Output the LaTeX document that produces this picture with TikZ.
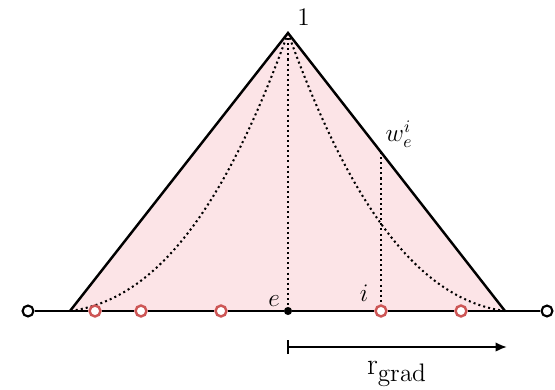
\documentclass[tikz,border=0pt]{standalone}
\usepackage{amsmath,amssymb}
\usepackage{xcolor}
\usepackage{tikz}
\usetikzlibrary{positioning, calc, arrows.meta}

\definecolor{hatpink}{RGB}{252,228,231}
\definecolor{knotred}{RGB}{205,86,86}

\tikzset{
    endknot/.style={circle, draw=black, fill=white, line width=1.2pt, inner sep=0pt, minimum size=6.2pt},
    redknot/.style={circle, draw=knotred, fill=white, line width=1.4pt, inner sep=0pt, minimum size=6.2pt},
    evalpt/.style={circle, fill=black, inner sep=0pt, minimum size=4.6pt},
    dotline/.style={line width=1.15pt, dash pattern=on 1.15pt off 1.75pt},
    lbl/.style={font=\Large, inner sep=1pt}
}

\begin{document}
\begin{tikzpicture}
    \useasboundingbox (0,0) rectangle (11.1,7.78);

    % Hat corners
    \coordinate (top) at (5.76,7.12);
    \coordinate (lc) at (1.40,1.56);
    \coordinate (rc) at (10.10,1.56);
    \coordinate (wtop) at (7.62,4.74);

    % Pink hat
    \fill[hatpink] (lc) -- (top) -- (rc) -- cycle;

    % Dotted curves
    \draw[dotline] (top) .. controls (4.46,3.51) and (3.07,1.78) .. (lc);
    \draw[dotline] (top) .. controls (7.06,3.51) and (8.45,1.78) .. (rc);

    % Knots on the line
    \node[endknot] (endL) at (0.56,1.56) {};
    \node[endknot] (endR) at (10.94,1.56) {};
    \node[evalpt] (e) at (5.76,1.56) {};
    \node[redknot] (k1) at (1.90,1.56) {};
    \node[redknot] (k2) at (2.82,1.56) {};
    \node[redknot] (k3) at (4.42,1.56) {};
    \node[redknot] (ki) at (7.62,1.56) {};
    \node[redknot] (k5) at (9.22,1.56) {};

    % Dotted verticals
    \draw[dotline] (top) -- (e);
    \draw[dotline] (wtop) -- (ki);

    % Hat edges and base line
    \draw[line width=1.4pt] (lc) -- (top) -- (rc);
    \draw[line width=1.2pt] (endL) -- (k1) -- (k2) -- (k3) -- (e) -- (ki) -- (k5) -- (endR);

    % Labels
    \node[lbl] (one) at (6.07,7.43) {$1$};
    \node[lbl] (wlbl) at (7.98,5.10) {$w_e^i$};
    \node[lbl] (elbl) at (5.48,1.76) {$e$};
    \node[lbl] (ilbl) at (7.28,1.92) {$i$};

    % Radius arrow
    \coordinate (rL) at (5.74,0.84);
    \coordinate (rR) at (10.14,0.84);
    \draw[line width=1.2pt, {Bar[width=8pt]}-{Latex[length=6.5pt,width=5.5pt]}] (rL) -- (rR);
    \node[font=\fontsize{19}{21}\selectfont, inner sep=0pt] (rgrad) at (7.94,0.30) {$\mathrm{r}_{\mathrm{grad}}$};

\end{tikzpicture}
\end{document}
